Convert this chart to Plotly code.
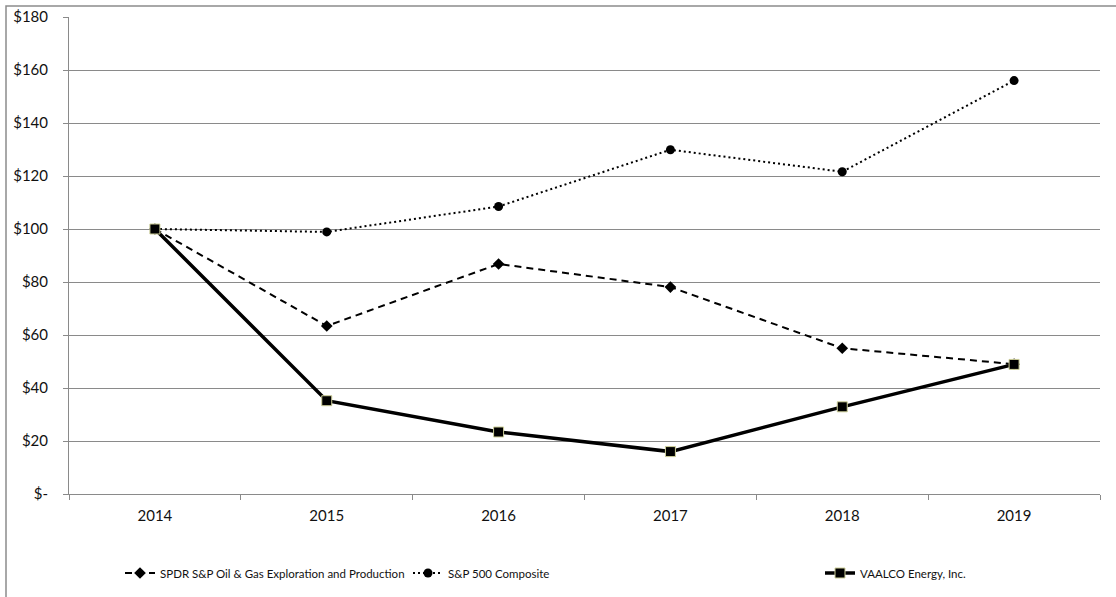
import plotly.graph_objects as go

years = ["2014", "2015", "2016", "2017", "2018", "2019"]
spdr = [100, 63.4, 86.8, 78.1, 55.0, 49.0]
sp500 = [100, 98.9, 108.5, 129.9, 121.6, 156.0]
vaalco = [100, 35.2, 23.4, 16.0, 32.9, 48.9]

y_ticks = [0, 20, 40, 60, 80, 100, 120, 140, 160, 180]
y_tick_labels = ["$-", "$20", "$40", "$60", "$80", "$100", "$120", "$140", "$160", "$180"]

FONT = "Lato"

L, R, T, B = 69, 16, 17, 103
PW = 1116 - L - R
PH = 597 - T - B


def px_x(px):
    return (px - L) / PW


def px_y(py):
    return (597 - B - py) / PH


fig = go.Figure()
fig.add_trace(go.Scatter(
    x=years, y=spdr, mode="lines+markers",
    name="SPDR S&P Oil & Gas Exploration and Production", legend="legend",
    line=dict(color="black", width=2, dash="7px,5px"),
    marker=dict(symbol="diamond", size=9, color="black"),
))
fig.add_trace(go.Scatter(
    x=years, y=sp500, mode="lines+markers",
    name="S&P 500 Composite", legend="legend2",
    line=dict(color="black", width=2, dash="2px,3px"),
    marker=dict(symbol="circle", size=9, color="black"),
))
fig.add_trace(go.Scatter(
    x=years, y=vaalco, mode="lines+markers",
    name="VAALCO Energy, Inc.", legend="legend3",
    line=dict(color="black", width=3.5),
    marker=dict(symbol="square", size=10, color="black",
                line=dict(color="#cfd09a", width=1)),
))

leg_common = dict(orientation="h", xanchor="left", yanchor="middle", y=px_y(573),
                  font=dict(family=FONT, size=11.5, color="#111111"),
                  bgcolor="rgba(0,0,0,0)", borderwidth=0)

fig.update_layout(
    width=1116, height=597,
    margin=dict(l=L, r=R, t=T, b=B, autoexpand=False),
    paper_bgcolor="white", plot_bgcolor="white",
    font=dict(family=FONT, size=15, color="#111111"),
    showlegend=True,
    legend=dict(x=px_x(120), **leg_common),
    legend2=dict(x=px_x(408), **leg_common),
    legend3=dict(x=px_x(820), **leg_common),
    xaxis=dict(
        type="category", range=[-0.5, 5.5], tickson="boundaries", automargin=False,
        showgrid=False, showline=True, linecolor="#8a8a8a", linewidth=1,
        ticks="outside", ticklen=5, tickcolor="#8a8a8a",
        tickfont=dict(family=FONT, size=15, color="#111111"),
        ticklabelstandoff=8, fixedrange=True,
    ),
    yaxis=dict(
        range=[0, 180], tickvals=y_ticks, ticktext=y_tick_labels, automargin=False,
        showgrid=True, gridcolor="#8a8a8a", gridwidth=1,
        showline=True, linecolor="#8a8a8a", linewidth=1,
        ticks="outside", ticklen=5, tickcolor="#8a8a8a",
        tickfont=dict(family=FONT, size=15, color="#111111"),
        ticklabelstandoff=12, zeroline=False, fixedrange=True,
    ),
    shapes=[dict(type="rect", xref="paper", yref="paper",
                 x0=px_x(6), x1=px_x(1130), y0=px_y(610), y1=px_y(6),
                 line=dict(color="#8c8c8c", width=1.5), fillcolor="rgba(0,0,0,0)",
                 layer="below")],
)

fig.write_html("out.html", config={"displayModeBar": False},
               post_script="document.body.style.margin='0';document.body.style.overflow='hidden';")
